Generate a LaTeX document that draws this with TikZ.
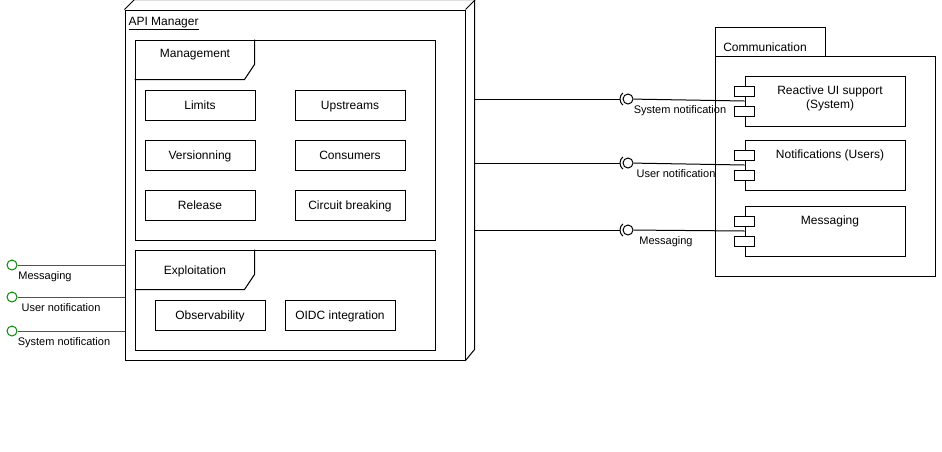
\documentclass[tikz,border=0pt]{standalone}
\usepackage{fontspec}
\setmainfont{Liberation Sans}
\definecolor{lolli}{RGB}{0,140,0}

\begin{document}
\begin{tikzpicture}[x=1pt, y=-1pt, line width=1pt,
    txt/.style={font=\fontsize{12}{14}\selectfont},
    mid/.style={txt, text height=11pt, text depth=2.4pt},
    lbl/.style={font=\fontsize{11}{13}\selectfont, inner sep=0pt, text height=10pt, text depth=2.1pt},
    part/.style={draw, minimum width=110pt, minimum height=30pt, mid, inner sep=0pt},
    comp/.style={draw, fill=white, minimum width=160pt, minimum height=50pt},
    port/.style={draw, fill=white, minimum width=20pt, minimum height=10pt, inner sep=0pt},
    ball/.style={draw, circle, minimum size=10pt, inner sep=0pt}]
  \useasboundingbox[fill=white] (0,0) rectangle (942,451);

  % api manager node (3d box)
  \node [draw, minimum width=340pt, minimum height=350pt] (api) at (295,185) {};
  \draw (api.north west) -- ++(10,-10) -- ++(340,0) -- ++(0,350) -- (api.south east);
  \draw (api.north east) -- ++(10,-10);
  \coordinate (apiE) at (475,185);
  \node [txt, anchor=base west, inner sep=0pt] (apiname) at (128,25.3) {\underline{API Manager}};

  % frames
  \node [draw, minimum width=300pt, minimum height=200pt] (mgmt) at (285,140) {};
  \draw (mgmt.north west) ++(120,0) -- ++(0,25) -- ++(-10,15) -- ++(-110,0);
  \node [mid] (mgmtlbl) at (195,53) {Management};
  \node [draw, minimum width=300pt, minimum height=100pt] (expl) at (285,300) {};
  \draw (expl.north west) ++(120,0) -- ++(0,25) -- ++(-10,15) -- ++(-110,0);
  \node [mid] (expllbl) at (195,270) {Exploitation};

  \foreach \n/\x/\y/\t in {limits/200/105/Limits, upstreams/350/105/Upstreams,
      versions/200/155/Versionning, consumers/350/155/Consumers,
      release/200/205/Release, breaker/350/205/Circuit breaking,
      observ/210/315/Observability, oidc/340/315/OIDC integration} {
    \node [part] (\n) at (\x,\y) {\t};
  }

  % communication package
  \node [draw, minimum width=110pt, minimum height=29pt] (commtab) at (770,41.5) {};
  \node [draw, fill=white, minimum width=220pt, minimum height=220pt] (comm) at (825,166) {};
  \node [mid] (commlbl) at (765,47) {Communication};

  \foreach \n/\y/\t in {reactive/101/{Reactive UI support\\(System)},
      notif/165/{Notifications (Users)}, msg/231/{Messaging}} {
    \node [comp] (\n) at (825,\y) {};
    \node [port] (\n p1) at ([yshift=10pt]\n.west) {};
    \node [port] (\n p2) at ([yshift=-10pt]\n.west) {};
    \node [txt, align=center, anchor=north, inner sep=0pt] (\n lbl) at ([xshift=5pt,yshift=-9.5pt]\n.north) {\t};
  }

  % required interfaces
  \foreach \n/\y/\t/\lx in {reactive/99/System notification/680,
      notif/163/User notification/676, msg/230/Messaging/666} {
    \node [ball] (ball\n) at (628,\y) {};
    \coordinate (sock\n) at ([xshift=-8pt]ball\n.center);
    \draw (sock\n) arc [start angle=180, end angle=130, radius=8];
    \draw (sock\n) arc [start angle=180, end angle=230, radius=8];
    \draw (apiE |- sock\n) -- (sock\n);
    \draw (ball\n) -- (\n.west);
    \node [lbl] (lbl\n) at (\lx,\y+11) {\t};
  }

  % provided interfaces
  \foreach \n/\y/\t/\lx in {msgL/265/Messaging/45,
      userL/297/User notification/61, sysL/331/System notification/64} {
    \node [ball, draw=lolli] (ball\n) at (12,\y) {};
    \draw [lolli] (ball\n) -- (api.west |- ball\n);
    \node [lbl] (lbl\n) at (\lx,\y+11) {\t};
  }
\end{tikzpicture}
\end{document}
